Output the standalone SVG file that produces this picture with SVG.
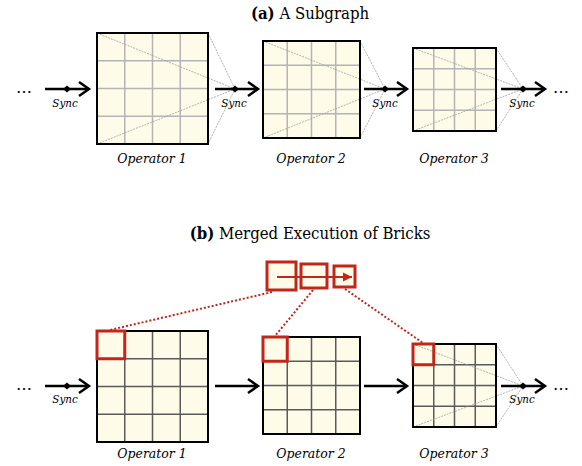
<svg xmlns="http://www.w3.org/2000/svg" width="582" height="466" viewBox="0 0 582 466">
<defs>
<style>
.title{font-family:'DejaVu Serif Condensed','DejaVu Serif','Liberation Serif',serif;font-size:16.6px;fill:#000;text-anchor:middle}
.op{font-family:'DejaVu Serif','Liberation Serif',serif;font-style:italic;font-size:12.5px;fill:#000;text-anchor:middle}
.sync{font-family:'DejaVu Serif Condensed','DejaVu Serif','Liberation Serif',serif;font-style:italic;font-size:11.5px;fill:#000;text-anchor:middle}
.dots{font-family:'DejaVu Serif','Liberation Serif',serif;font-size:16px;fill:#000}
.box{fill:#fefbe8;stroke:none}
.border{fill:none;stroke:#000;stroke-width:2}
.gridA{stroke:#b4b4b4;stroke-width:1.5;fill:none}
.gridB{stroke:#5a5a5a;stroke-width:1.5;fill:none}
.diag{stroke:#a0a0a0;stroke-width:0.8;stroke-dasharray:2 1;fill:none}
.arrow{stroke:#000;stroke-width:2.5;fill:none;marker-end:url(#chev)}
.dia{fill:#000}
.redcell{fill:none;stroke:#c0261a;stroke-width:3}
.redsq{fill:#fefbe8;stroke:#c0261a;stroke-width:3}
.reddot{stroke:#c0261a;stroke-width:2;stroke-dasharray:2 2;fill:none}
</style>
<marker id="chev" markerUnits="userSpaceOnUse" markerWidth="14" markerHeight="18" refX="11" refY="8" orient="auto" overflow="visible">
<path d="M1,1 L11,8 L1,15" fill="none" stroke="#000" stroke-width="2.5"/>
</marker>
<marker id="redtri" markerUnits="userSpaceOnUse" markerWidth="10" markerHeight="10" refX="9" refY="5" orient="auto">
<path d="M0,0.5 L9,5 L0,9.5 Z" fill="#c0261a"/>
</marker>
</defs>

<text class="title" x="310" y="19"><tspan font-weight="bold">(a)</tspan> A Subgraph</text>
<text class="title" x="310" y="239"><tspan font-weight="bold">(b)</tspan> Merged Execution of Bricks</text>

<!-- Part (a) nodes -->
<g id="a-op1">
<rect class="box" x="97" y="33" width="111" height="111"/>
<path class="gridA" d="M124.75,33V144M152.5,33V144M180.25,33V144M97,60.75H208M97,88.5H208M97,116.25H208"/>
<path class="diag" d="M97,33L235,89M97,144L235,89M208,33L235,89M208,144L235,89"/>
<rect class="border" x="97" y="33" width="111" height="111"/>
<text class="op" x="152" y="163">Operator 1</text>
</g>
<g id="a-op2">
<rect class="box" x="263" y="41" width="97" height="97"/>
<path class="gridA" d="M287.25,41V138M311.5,41V138M335.75,41V138M263,65.25H360M263,89.5H360M263,113.75H360"/>
<path class="diag" d="M263,41L385,89M263,138L385,89M360,41L385,89M360,138L385,89"/>
<rect class="border" x="263" y="41" width="97" height="97"/>
<text class="op" x="311" y="163">Operator 2</text>
</g>
<g id="a-op3">
<rect class="box" x="413" y="48" width="83" height="83"/>
<path class="gridA" d="M433.75,48V131M454.5,48V131M475.25,48V131M413,68.75H496M413,89.5H496M413,110.25H496"/>
<path class="diag" d="M413,48L523,89M413,131L523,89M496,48L523,89M496,131L523,89"/>
<rect class="border" x="413" y="48" width="83" height="83"/>
<text class="op" x="454" y="163">Operator 3</text>
</g>

<!-- Part (b) nodes -->
<g id="b-op1">
<rect class="box" x="97" y="331" width="111" height="111"/>
<path class="gridB" d="M124.75,331V442M152.5,331V442M180.25,331V442M97,358.75H208M97,386.5H208M97,414.25H208"/>
<rect class="border" x="97" y="331" width="111" height="111"/>
<rect class="redcell" x="97" y="331" width="27.75" height="27.75"/>
<text class="op" x="152" y="458">Operator 1</text>
</g>
<g id="b-op2">
<rect class="box" x="263" y="337" width="97" height="97"/>
<path class="gridB" d="M287.25,337V434M311.5,337V434M335.75,337V434M263,361.25H360M263,385.5H360M263,409.75H360"/>
<rect class="border" x="263" y="337" width="97" height="97"/>
<rect class="redcell" x="263" y="337" width="24.25" height="24.25"/>
<text class="op" x="311" y="458">Operator 2</text>
</g>
<g id="b-op3">
<rect class="box" x="413" y="344" width="83" height="83"/>
<path class="gridB" d="M433.75,344V427M454.5,344V427M475.25,344V427M413,364.75H496M413,385.5H496M413,406.25H496"/>
<path class="diag" d="M413,344L523,386M413,427L523,386M496,344L523,386M496,427L523,386"/>
<rect class="border" x="413" y="344" width="83" height="83"/>
<rect class="redcell" x="413" y="344" width="20.75" height="20.75"/>
<text class="op" x="454" y="458">Operator 3</text>
</g>
<g id="b-bricks">
<rect class="redsq" x="267" y="262" width="29" height="28"/>
<rect class="redsq" x="301" y="264" width="26" height="24"/>
<rect class="redsq" x="334" y="266" width="21" height="21"/>
<line x1="277" y1="277" x2="352" y2="277" stroke="#c0261a" stroke-width="2" marker-end="url(#redtri)"/>
</g>

<!-- Connectors -->
<g id="connectors">
<text class="dots" x="16" y="93">…</text>
<text class="dots" x="553" y="93">…</text>
<line class="arrow" x1="45" y1="89" x2="89" y2="89"/>
<line class="arrow" x1="215" y1="89" x2="258" y2="89"/>
<line class="arrow" x1="364" y1="89" x2="407" y2="89"/>
<line class="arrow" x1="501" y1="89" x2="545" y2="89"/>
<polygon class="dia" points="63,89 67,85.5 71,89 67,92.5"/>
<polygon class="dia" points="231,89 235,85.5 239,89 235,92.5"/>
<polygon class="dia" points="381,89 385,85.5 389,89 385,92.5"/>
<polygon class="dia" points="519,89 523,85.5 527,89 523,92.5"/>
<text class="sync" x="65" y="107">Sync</text>
<text class="sync" x="234" y="107">Sync</text>
<text class="sync" x="385" y="107">Sync</text>
<text class="sync" x="522" y="107">Sync</text>

<text class="dots" x="16" y="390">…</text>
<text class="dots" x="553" y="390">…</text>
<line class="arrow" x1="45" y1="386" x2="89" y2="386"/>
<line class="arrow" x1="215" y1="386" x2="258" y2="386"/>
<line class="arrow" x1="364" y1="386" x2="407" y2="386"/>
<line class="arrow" x1="501" y1="386" x2="545" y2="386"/>
<polygon class="dia" points="63,386 67,382.5 71,386 67,389.5"/>
<polygon class="dia" points="519,386 523,382.5 527,386 523,389.5"/>
<text class="sync" x="65" y="403">Sync</text>
<text class="sync" x="522" y="403">Sync</text>

<line class="reddot" x1="272" y1="292" x2="110" y2="330"/>
<line class="reddot" x1="313" y1="290" x2="275" y2="336"/>
<line class="reddot" x1="345" y1="289" x2="423" y2="343"/>
</g>
</svg>
